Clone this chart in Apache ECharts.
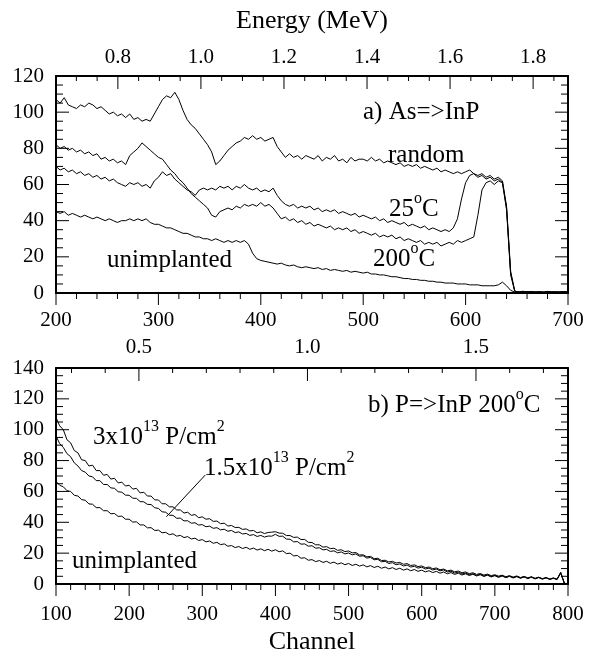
<!DOCTYPE html>
<html>
<head>
<meta charset="utf-8">
<title>RBS channeling spectra</title>
<script src="https://cdn.jsdelivr.net/npm/echarts@6/dist/echarts.min.js"></script>
<style>html,body{margin:0;padding:0;background:#fff;}</style>
</head>
<body>
<div id="main" style="width:590px;height:654px;"></div>
<script type="text/javascript">
// ---- panel a) As=>InP, channels 200..700 every 4 ----
var chanA = [];
for (var c = 200; c <= 700; c += 4) chanA.push(c);

var randomA = [107,105,108,104,103,102,104,103,105,104,
  102,103,101,99,100,98,99,97,99,96,
  97,95,96,95,99,103,107,109,108,111,
  107,101,96,93,91,88,85,82,78,71,
  73,76,79,81,83,84,86,85,87,85,
  86,84,85,86,81,78,75,77,75,76,
  74,76,75,74,76,73,75,74,76,73,
  74,72,75,73,74,74,73,75,73,74,
  72,73,72,71,72,70,71,70,71,69,
  70,69,68,69,67,68,67,66,67,66,
  67,68,66,65,66,64,65,63,64,62,
  48,12,1,0.5,1,0.5,0.8,0.3,0.7,0.5,
  0.9,0.4,0.6,0.5,0.8,0.4];

var hot200A = [82,80,81,79,80,78,79,77,78,76,
  77,74,75,73,74,72,73,71,76,78,
  80,83,81,79,77,75,74,71,68,66,
  63,61,58,55,53,51,49,47,43,42,
  45,46,47,46,48,47,49,48,49,48,
  50,48,49,47,44,41,42,40,41,39,
  40,38,39,37,38,37,36,37,35,36,
  35,36,34,35,33,34,33,32,33,31,
  32,31,32,30,31,29,30,29,28,29,
  27,28,27,28,26,27,28,27,29,28,
  29,30,31,43,57,61,62,60,62,61,
  46,10,1,0.6,0.4,0.8,0.5,0.7,0.4,0.6,
  0.5,0.8,0.4,0.7,0.5,0.6];

var room25A = [70,68,69,67,68,66,67,65,66,64,
  65,63,64,62,63,61,60,59,61,60,
  61,59,60,58,62,64,67,65,66,63,
  61,59,57,56,54,57,58,57,58,57,
  59,58,59,57,59,58,60,58,57,58,
  56,57,56,58,54,51,49,48,49,47,
  48,47,48,46,47,45,46,45,46,44,
  45,44,43,44,42,43,42,41,42,40,
  41,39,40,39,38,39,37,38,37,36,
  37,35,36,35,34,35,34,36,41,52,
  61,65,66,64,65,63,64,62,63,61,
  47,11,1,0.5,0.7,0.4,0.8,0.5,0.6,0.3,
  0.7,0.5,0.6,0.4,0.7,0.5];

var unimpA = [45,44,45,43,44,43,42,43,42,41,
  42,41,40,41,40,39,40,40,41,40,
  41,40,41,39,38,38,37,36,36,35,
  34,33,33,32,31,31,30,30,29,30,
  29,28,29,28,29,28,29,27,22,19,
  18,17.5,17,16.5,16,16.5,15.5,15,15.5,14.5,
  14,14.5,14,13.5,14,13,13.5,12.5,13,12.5,
  12,12.5,11.5,12,11.5,11,11.5,10.5,10.5,10,
  10,9.5,9,9,8.5,8,8,7.5,7.5,7,
  7,6.5,6.5,6,6,5.5,5.5,5.5,5,5,
  5,4.5,4.5,4.5,4,4,4,4,4.5,6,
  4,1.5,0.5,0.4,0.6,0.3,0.5,0.4,0.6,0.3,
  0.5,0.4,0.6,0.3,0.5,0.4];

// ---- panel b) P=>InP 200C, channels 100..800 every 5 ----
var chanB = [];
for (var c2 = 100; c2 <= 800; c2 += 5) chanB.push(c2);

var dose3B = [108,102.5,100,93.5,91.5,86.5,85,80.5,80,76.5,
  77,73.5,73.5,70.5,71,68,68.5,65.5,66,63.5,
  64,61.5,62,59,59.5,57,57,54.5,54.5,52,
  52,50,50,48,48,46,46.5,44.5,45,43,
  43.5,42,42.3,40.6,40.8,39.1,39.4,37.6,37.9,36.6,
  36.7,35.4,35.7,34.4,34.7,33.2,33.8,32.7,33.4,33.6,
  33.9,33,32.9,31.4,31.4,30.2,30.4,28.8,28.9,27,
  26.9,25.4,25.4,23.9,24.2,22.9,23.2,21.8,22.2,21,
  21.4,20.2,20.4,18.8,18.9,17.6,17.9,16.4,16.7,15.2,
  15.4,14.3,14.7,13.6,14,12.8,13.2,12,12.4,11.3,
  11.7,10.6,11,9.9,10.4,9.2,9.7,8.5,9,7.9,
  8.4,7.3,7.8,6.7,7.3,6.2,6.8,5.8,6.4,5.4,
  6,5.1,5.7,4.7,5.4,4.5,5.2,4.2,4.9,4,
  4.7,3.7,4.4,3.5,4.2,3.3,3.9,3.2,7.5,0.5,
  0];

var dose15B = [96,91,88.5,84.5,82.5,78.5,76.5,73.5,72.5,70,
  69.5,67,67,64.5,64.5,62.3,62,59.8,59.5,57.6,
  57.5,55.6,55.5,53.4,53.3,51.6,51.5,49.4,49,46.8,
  46.5,44.6,44.5,42.6,42.7,40.9,41,39.4,39.7,38.2,
  38.5,37.1,37.5,36.1,36.5,35.1,35.5,34.2,34.7,33.3,
  33.8,32.4,32.8,31.5,32,30.8,31.5,30.4,31.1,31,
  32.2,30.9,31,29.1,29,27.3,27.5,25.8,26,24.5,
  24.8,23.2,23.5,22.1,22.5,21.1,21.5,20.2,20.8,19.5,
  20.1,18.9,19.5,18,18.3,16.8,17.2,15.7,16,14.4,
  14.7,13.3,13.8,12.5,13,11.7,12.3,11,11.5,10.3,
  10.9,9.7,10.3,9.1,9.7,8.5,9.1,7.8,8.3,7.1,
  7.7,6.5,7.1,6,6.7,5.6,6.3,5.2,5.9,4.8,
  5.6,4.6,5.4,4.3,5.1,4.1,4.9,3.9,4.7,3.7,
  4.5,3.5,4.3,3.3,4.1,3.1,3.8,3,7.5,0.5,
  0];

var unimpB = [66.5,64,63,60.5,60,57.5,57,54.7,54.3,51.9,
  51.7,49.5,49.5,47.5,47.5,45.5,45.7,43.8,44,42,
  42,40.1,40.3,38.3,38.3,36.4,36.5,34.7,34.9,33.2,
  33.5,32,32.5,31,31.5,30.1,30.7,29.2,29.7,28.2,
  28.8,27.3,27.9,26.4,27,25.5,26,24.5,24.9,23.6,
  24.3,23,23.8,22.5,23.3,22,22.8,21.6,22.5,21.3,
  22.2,20.9,21.5,19.7,20,18.2,18.5,16.7,17,15.4,
  15.8,14.5,15.2,14,14.7,13.4,14.2,12.9,13.7,12.5,
  13.3,12,12.8,11.6,12.4,11.1,11.9,10.7,11.5,10.2,
  11,9.8,10.6,9.4,10.2,9,9.8,8.6,9.4,8.2,
  9,7.8,8.6,7.4,8.2,7,7.8,6.6,7.4,6.2,
  7,5.8,6.6,5.5,6.3,5.2,6,4.9,5.7,4.6,
  5.4,4.3,5.2,4.1,5,3.9,4.8,3.7,4.6,3.5,
  4.4,3.3,4.2,3.1,4,2.9,3.7,2.8,7,0.5,
  0];

// leader from the 1.5e13 label to its curve (channel, counts)
var leaderB = [[251, 43.6], [304, 70.6]];

// energy scales (MeV at the left and right edge of each panel) and ticks
var energyRangeA = [0.651, 1.884];
var energyMajorA = [0.8, 1.0, 1.2, 1.4, 1.6, 1.8];
var energyMinorA = [0.7, 0.75, 0.85, 0.9, 0.95, 1.05, 1.1, 1.15, 1.25, 1.3, 1.35, 1.45, 1.5, 1.55, 1.65, 1.7, 1.75, 1.85];
var energyRangeB = [0.254, 1.773];
var energyMajorB = [0.5, 1.0, 1.5];
var energyMinorB = [0.3, 0.4, 0.6, 0.7, 0.8, 0.9, 1.1, 1.2, 1.3, 1.4, 1.6, 1.7];

var FONT = 'Liberation Serif';

function zip(xs, ys) {
  var out = [];
  for (var i = 0; i < xs.length; i++) out.push([xs[i], ys[i]]);
  return out;
}

// tick items: [value, side, isMajor]; side 0 bottom, 1 top, 2 left, 3 right
function stepTicks(min, max, major, minor, sides) {
  var out = [];
  for (var v = min; v <= max + 1e-9; v += minor) {
    var isMajor = Math.abs(Math.round((v - min) / major) * major - (v - min)) < 1e-6 ? 1 : 0;
    sides.forEach(function (s) { out.push([v, s, isMajor]); });
  }
  return out;
}
function listTicks(majors, minors, side) {
  return majors.map(function (v) { return [v, side, 1]; })
    .concat(minors.map(function (v) { return [v, side, 0]; }));
}

// tick lengths (px): [minor, major] per side
var tickLen = { 0: [6, 12], 1: [5, 13], 2: [7, 13], 3: [7, 13] };

// ticks are drawn through the axes' own scales with a custom series
function tickSeries(xi, yi, items, xr, yr) {
  return {
    type: 'custom', xAxisIndex: xi, yAxisIndex: yi, silent: true, clip: false, z: 5,
    data: items,
    renderItem: function (params, api) {
      var v = api.value(0), side = api.value(1), len = tickLen[side][api.value(2)];
      var p, dx = 0, dy = 0;
      if (side === 0) { p = api.coord([v, yr[0]]); dy = len; }
      else if (side === 1) { p = api.coord([v, yr[1]]); dy = len; }
      else if (side === 2) { p = api.coord([xr[0], v]); dx = len; }
      else { p = api.coord([xr[1], v]); dx = -len; }
      return {
        type: 'line',
        shape: { x1: p[0], y1: p[1], x2: p[0] + dx, y2: p[1] + dy },
        style: { stroke: '#000', lineWidth: 1 }
      };
    }
  };
}

function chanAxis(grid, min, max, margin) {
  return {
    type: 'value', gridIndex: grid, position: 'bottom', min: min, max: max, interval: 100,
    axisLine: { show: true, onZero: false, lineStyle: { color: '#000', width: 2 } },
    axisTick: { show: false }, minorTick: { show: false },
    axisLabel: { show: true, color: '#000', fontFamily: FONT, fontSize: 21, margin: margin, showMinLabel: true, showMaxLabel: true },
    splitLine: { show: false }
  };
}
function energyAxis(grid, range, ticks, margin) {
  return {
    type: 'value', gridIndex: grid, position: 'top', min: range[0], max: range[1],
    axisLine: { show: true, onZero: false, lineStyle: { color: '#000', width: 2 } },
    axisTick: { show: false },
    axisLabel: { show: true, customValues: ticks, color: '#000', fontFamily: FONT, fontSize: 21, margin: margin,
      formatter: function (v) { return v.toFixed(1); } },
    splitLine: { show: false }
  };
}
function countAxis(grid, max, side) {
  return {
    type: 'value', gridIndex: grid, position: side, min: 0, max: max, interval: 20,
    axisLine: { show: true, onZero: false, lineStyle: { color: '#000', width: 2 } },
    axisTick: { show: false }, minorTick: { show: false },
    axisLabel: { show: side === 'left', color: '#000', fontFamily: FONT, fontSize: 21, margin: 12, showMinLabel: true, showMaxLabel: true },
    splitLine: { show: false }
  };
}
function hidden(grid) {
  return { type: 'value', gridIndex: grid, show: false, min: 0, max: 1,
    axisLine: { onZero: false }, splitLine: { show: false } };
}
function spectrum(data, xi, yi) {
  return {
    type: 'line', xAxisIndex: xi, yAxisIndex: yi, data: data,
    symbol: 'none', showSymbol: false, silent: true,
    lineStyle: { color: '#000', width: 1 }
  };
}

var main = { fontFamily: FONT, fontSize: 25, lineHeight: 36, fill: '#000' };
var big = { fontFamily: FONT, fontSize: 26, lineHeight: 36, fill: '#000' };
var sup = { fontFamily: FONT, fontSize: 16, lineHeight: 16, verticalAlign: 'top', fill: '#000' };
function label(x, y, text, align) {
  return {
    type: 'text', x: x, y: y, silent: true,
    style: {
      text: text, rich: { m: main, b: big, s: sup },
      font: '25px "' + FONT + '"', fill: '#000',
      align: align || 'left', textAlign: align || 'left',
      verticalAlign: 'middle', textVerticalAlign: 'middle'
    }
  };
}

var rectA = { left: 56, right: 22, top: 76, height: 217 };
var rectB = { left: 56, right: 22, top: 368, height: 216 };
var grids = [];
for (var g = 0; g < 6; g++) grids.push(Object.assign({}, g < 3 ? rectA : rectB));

var chart = echarts.init(document.getElementById('main'));

var option = {
  animation: false,
  backgroundColor: '#fff',
  grid: grids,
  xAxis: [
    chanAxis(0, 200, 700, 17),
    energyAxis(1, energyRangeA, energyMajorA, 8),
    hidden(2),
    chanAxis(3, 100, 800, 20),
    energyAxis(4, energyRangeB, energyMajorB, 10),
    hidden(5)
  ],
  yAxis: [
    countAxis(0, 120, 'left'),
    hidden(1),
    countAxis(2, 120, 'right'),
    countAxis(3, 140, 'left'),
    hidden(4),
    countAxis(5, 140, 'right')
  ],
  series: [
    spectrum(zip(chanA, randomA), 0, 0),
    spectrum(zip(chanA, room25A), 0, 0),
    spectrum(zip(chanA, hot200A), 0, 0),
    spectrum(zip(chanA, unimpA), 0, 0),
    spectrum(zip(chanB, dose3B), 3, 3),
    spectrum(zip(chanB, dose15B), 3, 3),
    spectrum(zip(chanB, unimpB), 3, 3),
    spectrum(leaderB, 3, 3),
    tickSeries(0, 0, stepTicks(200, 700, 100, 20, [0])
      .concat(stepTicks(0, 120, 20, 5, [2, 3])), [200, 700], [0, 120]),
    tickSeries(1, 1, listTicks(energyMajorA, energyMinorA, 1), energyRangeA, [0, 1]),
    tickSeries(3, 3, stepTicks(100, 800, 100, 20, [0])
      .concat(stepTicks(0, 140, 20, 5, [2, 3])), [100, 800], [0, 140]),
    tickSeries(4, 4, listTicks(energyMajorB, energyMinorB, 1), energyRangeB, [0, 1])
  ],
  graphic: [
    label(312, 21, '{b|Energy (MeV)}', 'center'),
    label(312, 642, '{b|Channel}', 'center'),
    label(363, 112, '{m|a) As=>InP}'),
    label(388, 155, '{m|random}'),
    label(389, 209, '{m|25}{s|o}{m|C}'),
    label(373, 259, '{m|200}{s|o}{m|C}'),
    label(107, 260, '{m|unimplanted}'),
    label(368, 405, '{m|b) P=>InP 200}{s|o}{m|C}'),
    label(93, 437, '{m|3x10}{s|13}{m| P/cm}{s|2}'),
    label(204, 468, '{m|1.5x10}{s|13}{m| P/cm}{s|2}'),
    label(72, 561, '{m|unimplanted}')
  ]
};

chart.setOption(option);
</script>
</body>
</html>
